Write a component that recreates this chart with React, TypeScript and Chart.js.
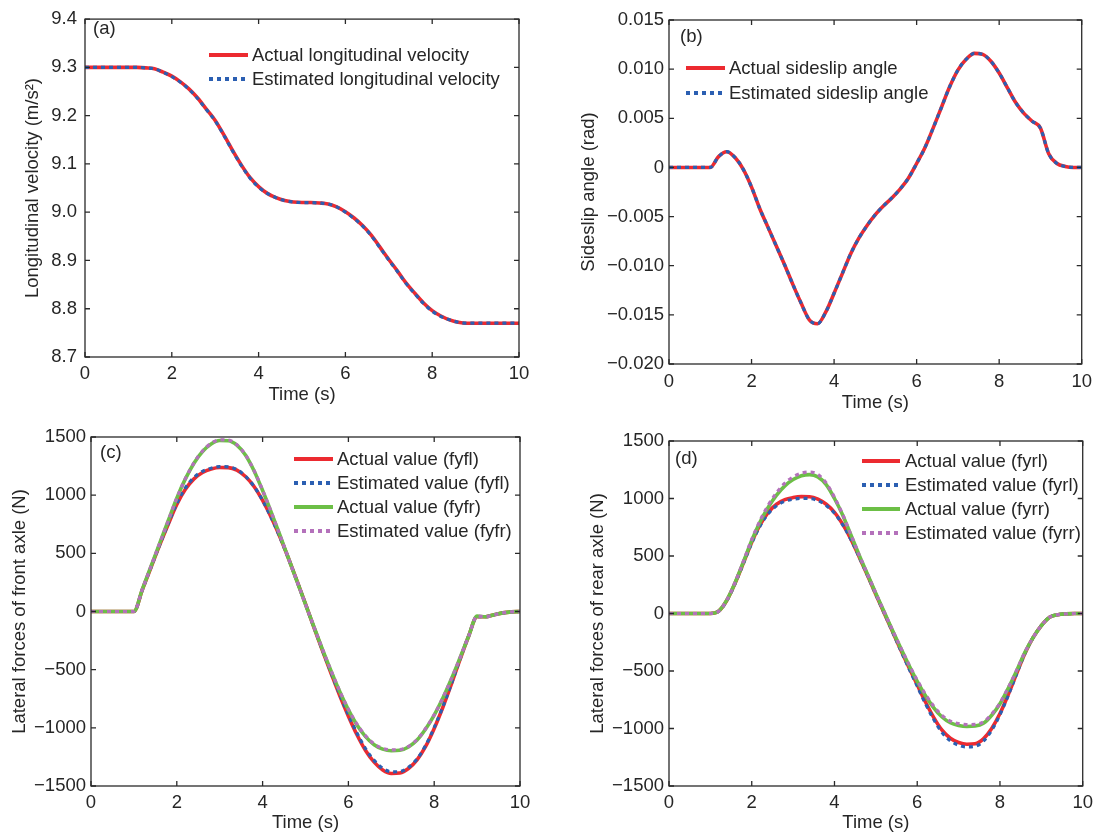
import React, { useEffect, useRef } from 'react';
import { Chart, registerables } from 'chart.js';

Chart.register(...registerables);

// ---------------- DATA ----------------
const TIME = [0, 0.2, 0.4, 0.6, 0.8, 1, 1.2, 1.4, 1.6, 1.8, 2, 2.2, 2.4, 2.6, 2.8, 3, 3.2, 3.4, 3.6, 3.8, 4, 4.2, 4.4, 4.6, 4.8, 5, 5.2, 5.4, 5.6, 5.8, 6, 6.2, 6.4, 6.6, 6.8, 7, 7.2, 7.4, 7.6, 7.8, 8, 8.2, 8.4, 8.6, 8.8, 9, 9.2, 9.4, 9.6, 9.8, 10];

const X_TICKS = [0, 2, 4, 6, 8, 10];
const X_LABELS = ['0', '2', '4', '6', '8', '10'];

// (a) longitudinal velocity
const VX_ACTUAL = [9.3, 9.3, 9.3, 9.3, 9.3, 9.3, 9.3, 9.299, 9.297, 9.29, 9.282, 9.27, 9.255, 9.236, 9.213, 9.19, 9.16, 9.128, 9.098, 9.072, 9.053, 9.039, 9.03, 9.024, 9.021, 9.02, 9.02, 9.019, 9.017, 9.011, 9.001, 8.988, 8.972, 8.952, 8.927, 8.902, 8.878, 8.853, 8.832, 8.812, 8.796, 8.785, 8.777, 8.772, 8.77, 8.77, 8.77, 8.77, 8.77, 8.77, 8.77];
const VX_ESTIMATED = [9.3, 9.3, 9.3, 9.3, 9.3, 9.3, 9.3, 9.299, 9.297, 9.29, 9.281, 9.269, 9.254, 9.235, 9.212, 9.189, 9.159, 9.127, 9.097, 9.071, 9.052, 9.039, 9.03, 9.024, 9.021, 9.02, 9.02, 9.019, 9.017, 9.011, 9.0, 8.987, 8.971, 8.951, 8.926, 8.901, 8.877, 8.852, 8.831, 8.811, 8.795, 8.784, 8.777, 8.772, 8.77, 8.77, 8.77, 8.77, 8.77, 8.77, 8.77];
const Y_TICKS_A = [8.7, 8.8, 8.9, 9.0, 9.1, 9.2, 9.3, 9.4];
const Y_LABELS_A = ['8.7', '8.8', '8.9', '9.0', '9.1', '9.2', '9.3', '9.4'];

// (b) sideslip angle
const BETA_ACTUAL = [0, 0, 0, 0, 0, 0, 0.0011, 0.0016, 0.001, -0.0002, -0.002, -0.0042, -0.0061, -0.008, -0.0099, -0.0119, -0.0138, -0.0155, -0.0159, -0.0147, -0.0128, -0.0108, -0.0088, -0.0072, -0.0059, -0.0048, -0.0039, -0.0031, -0.0022, -0.0011, 0.0004, 0.002, 0.004, 0.0061, 0.0082, 0.0099, 0.011, 0.0116, 0.0115, 0.0108, 0.0096, 0.0081, 0.0066, 0.0055, 0.0047, 0.004, 0.0014, 0.0004, 0.0001, 0, 0];
const BETA_ESTIMATED = [0, 0, 0, 0, 0, 0, 0.0011, 0.0016, 0.001, -0.0002, -0.002, -0.0042, -0.0061, -0.008, -0.0099, -0.0119, -0.0138, -0.0155, -0.0159, -0.0147, -0.0128, -0.0108, -0.0088, -0.0072, -0.0059, -0.0048, -0.0039, -0.0031, -0.0022, -0.0011, 0.0004, 0.002, 0.004, 0.0061, 0.0082, 0.0099, 0.011, 0.0116, 0.0115, 0.0108, 0.0096, 0.0081, 0.0066, 0.0055, 0.0047, 0.004, 0.0014, 0.0004, 0.0001, 0, 0];
const Y_TICKS_B = [-0.02, -0.015, -0.01, -0.005, 0, 0.005, 0.01, 0.015];
const Y_LABELS_B = ['\u22120.020', '\u22120.015', '\u22120.010', '\u22120.005', '0', '0.005', '0.010', '0.015'];

// (c) front axle lateral forces
const FYFL_ACTUAL = [0, 0, 0, 0, 0, 0, 190, 380, 570, 750, 920, 1050, 1140, 1195, 1225, 1238, 1237, 1215, 1160, 1075, 955, 810, 645, 460, 265, 65, -140, -340, -535, -725, -900, -1060, -1195, -1295, -1362, -1392, -1388, -1350, -1275, -1160, -1005, -825, -625, -415, -215, -45, -45, -28, -12, -3, 0];
const FYFL_ESTIMATED = [0, 0, 0, 0, 0, 0, 190, 380, 572, 755, 928, 1062, 1152, 1205, 1232, 1245, 1243, 1220, 1163, 1076, 955, 808, 642, 458, 263, 63, -140, -338, -530, -715, -888, -1045, -1180, -1280, -1348, -1378, -1376, -1340, -1268, -1152, -998, -820, -622, -412, -214, -45, -45, -28, -12, -3, 0];
const FYFR_ACTUAL = [0, 0, 0, 0, 0, 0, 195, 390, 585, 780, 975, 1140, 1275, 1375, 1440, 1470, 1468, 1430, 1345, 1210, 1040, 855, 660, 460, 262, 62, -135, -330, -515, -690, -845, -975, -1075, -1145, -1183, -1197, -1193, -1165, -1105, -1010, -890, -745, -580, -400, -215, -40, -45, -28, -12, -3, 0];
const FYFR_ESTIMATED = [0, 0, 0, 0, 0, 0, 195, 390, 585, 780, 975, 1142, 1278, 1380, 1445, 1475, 1473, 1433, 1347, 1212, 1042, 856, 660, 460, 262, 62, -135, -328, -512, -686, -840, -968, -1068, -1138, -1176, -1190, -1187, -1160, -1100, -1006, -887, -743, -579, -400, -215, -40, -45, -28, -12, -3, 0];
const Y_TICKS_CD = [-1500, -1000, -500, 0, 500, 1000, 1500];
const Y_LABELS_CD = ['\u22121500', '\u22121000', '\u2212500', '0', '500', '1000', '1500'];

// (d) rear axle lateral forces
const FYRL_ACTUAL = [0, 0, 0, 0, 0, 0, 20, 115, 265, 440, 620, 770, 880, 950, 990, 1008, 1016, 1015, 995, 950, 880, 775, 645, 490, 330, 165, 5, -155, -315, -470, -620, -770, -905, -1015, -1085, -1122, -1137, -1133, -1090, -1000, -870, -705, -525, -350, -210, -105, -32, -10, -3, 0, 0];
const FYRL_ESTIMATED = [0, 0, 0, 0, 0, 0, 20, 113, 262, 435, 612, 760, 868, 937, 976, 994, 1001, 1000, 982, 940, 872, 770, 642, 488, 330, 165, 5, -157, -320, -478, -632, -785, -922, -1035, -1107, -1145, -1160, -1155, -1110, -1015, -880, -712, -528, -350, -210, -105, -32, -10, -3, 0, 0];
const FYRR_ACTUAL = [0, 0, 0, 0, 0, 0, 20, 118, 270, 450, 635, 795, 925, 1030, 1110, 1165, 1198, 1208, 1188, 1120, 1000, 855, 680, 505, 340, 175, 15, -145, -300, -450, -590, -715, -820, -900, -950, -973, -982, -979, -955, -885, -785, -650, -500, -340, -210, -105, -32, -10, -3, 0, 0];
const FYRR_ESTIMATED = [0, 0, 0, 0, 0, 0, 20, 120, 274, 456, 645, 808, 942, 1050, 1133, 1188, 1220, 1230, 1208, 1135, 1010, 860, 683, 506, 340, 175, 15, -143, -296, -443, -580, -703, -806, -886, -936, -958, -966, -964, -942, -875, -778, -645, -497, -338, -209, -105, -32, -10, -3, 0, 0];

// ---------------- STYLE ----------------
const FONT = "'Liberation Sans', Arial, Helvetica, sans-serif";
const TEXT = '#262626';
const RED = '#ec2a30';
const BLUE = '#2b5fb2';
const GREEN = '#6cbf46';
const PURPLE = '#b471bb';

type Series = { label: string; values: number[]; color: string; dotted: boolean };
type Spec = {
  left: number; top: number; width: number; height: number;
  area: { l: number; t: number; r: number; b: number };
  yMin: number; yMax: number; yTicks: number[]; yLabels: string[];
  yTitle: string; yTitleX: number; yTickPad: number;
  xTickPad: number; xTitleY: number;
  tag: string; tagX: number; tagY: number;
  legend: { x1: number; x2: number; tx: number; rows: number[] };
  series: Series[];
};

const PANELS: Spec[] = [
  {
    left: 0, top: 0, width: 549, height: 418,
    area: { l: 85, t: 13, r: 519, b: 357 },
    yMin: 8.7, yMax: 9.4, yTicks: Y_TICKS_A, yLabels: Y_LABELS_A,
    yTitle: 'Longitudinal velocity (m/s\u00B2)', yTitleX: 33, yTickPad: 8,
    xTickPad: 6, xTitleY: 395,
    tag: '(a)', tagX: 93, tagY: 29,
    legend: { x1: 209, x2: 248, tx: 252, rows: [55, 79] },
    series: [
      { label: 'Actual longitudinal velocity', values: VX_ACTUAL, color: RED, dotted: false },
      { label: 'Estimated longitudinal velocity', values: VX_ESTIMATED, color: BLUE, dotted: true },
    ],
  },
  {
    left: 549, top: 0, width: 550, height: 418,
    area: { l: 120, t: 20, r: 535, b: 364 },
    yMin: -0.02, yMax: 0.015, yTicks: Y_TICKS_B, yLabels: Y_LABELS_B,
    yTitle: 'Sideslip angle (rad)', yTitleX: 40, yTickPad: 5,
    xTickPad: 7, xTitleY: 403,
    tag: '(b)', tagX: 131, tagY: 37,
    legend: { x1: 137, x2: 176, tx: 180, rows: [68, 93] },
    series: [
      { label: 'Actual sideslip angle', values: BETA_ACTUAL, color: RED, dotted: false },
      { label: 'Estimated sideslip angle', values: BETA_ESTIMATED, color: BLUE, dotted: true },
    ],
  },
  {
    left: 0, top: 418, width: 549, height: 419,
    area: { l: 91, t: 19, r: 520, b: 368 },
    yMin: -1500, yMax: 1500, yTicks: Y_TICKS_CD, yLabels: Y_LABELS_CD,
    yTitle: 'Lateral forces of front axle (N)', yTitleX: 20, yTickPad: 5,
    xTickPad: 6, xTitleY: 405,
    tag: '(c)', tagX: 100, tagY: 35,
    legend: { x1: 294, x2: 333, tx: 337, rows: [41, 65, 89, 113] },
    series: [
      { label: 'Actual value (fyfl)', values: FYFL_ACTUAL, color: RED, dotted: false },
      { label: 'Estimated value (fyfl)', values: FYFL_ESTIMATED, color: BLUE, dotted: true },
      { label: 'Actual value (fyfr)', values: FYFR_ACTUAL, color: GREEN, dotted: false },
      { label: 'Estimated value (fyfr)', values: FYFR_ESTIMATED, color: PURPLE, dotted: true },
    ],
  },
  {
    left: 549, top: 418, width: 550, height: 419,
    area: { l: 120, t: 23, r: 538, b: 368 },
    yMin: -1500, yMax: 1500, yTicks: Y_TICKS_CD, yLabels: Y_LABELS_CD,
    yTitle: 'Lateral forces of rear axle (N)', yTitleX: 49, yTickPad: 5,
    xTickPad: 6, xTitleY: 405,
    tag: '(d)', tagX: 126, tagY: 41,
    legend: { x1: 313, x2: 351, tx: 356, rows: [43, 67, 91, 115] },
    series: [
      { label: 'Actual value (fyrl)', values: FYRL_ACTUAL, color: RED, dotted: false },
      { label: 'Estimated value (fyrl)', values: FYRL_ESTIMATED, color: BLUE, dotted: true },
      { label: 'Actual value (fyrr)', values: FYRR_ACTUAL, color: GREEN, dotted: false },
      { label: 'Estimated value (fyrr)', values: FYRR_ESTIMATED, color: PURPLE, dotted: true },
    ],
  },
];

const FONT_SIZE = 18.5;
const LINE_H = FONT_SIZE * 1.2;

function Panel({ spec }: { spec: Spec }) {
  const ref = useRef<HTMLCanvasElement | null>(null);
  useEffect(() => {
    const canvas = ref.current;
    if (!canvas) return;
    const frame = {
      id: 'frame',
      afterDatasetsDraw(chart: any) {
        const { ctx, chartArea } = chart;
        const { left, top, right, bottom } = chartArea;
        const xs = chart.scales.x;
        const ys = chart.scales.y;
        ctx.save();
        ctx.strokeStyle = '#2a2a2a';
        ctx.lineWidth = 1.3;
        ctx.setLineDash([]);
        ctx.strokeRect(left, top, right - left, bottom - top);
        const tl = 5;
        ctx.beginPath();
        X_TICKS.forEach((v) => {
          const px = xs.getPixelForValue(v);
          ctx.moveTo(px, bottom); ctx.lineTo(px, bottom - tl);
          ctx.moveTo(px, top); ctx.lineTo(px, top + tl);
        });
        spec.yTicks.forEach((v) => {
          const py = ys.getPixelForValue(v);
          ctx.moveTo(left, py); ctx.lineTo(left + tl, py);
          ctx.moveTo(right, py); ctx.lineTo(right - tl, py);
        });
        ctx.stroke();

        // panel tag
        ctx.fillStyle = TEXT;
        ctx.font = `${FONT_SIZE}px ${FONT}`;
        ctx.textAlign = 'left';
        ctx.textBaseline = 'middle';
        ctx.fillText(spec.tag, spec.tagX, spec.tagY);

        // legend
        const lg = spec.legend;
        ctx.font = `${FONT_SIZE}px ${FONT}`;
        spec.series.forEach((s, i) => {
          const y = lg.rows[i];
          ctx.beginPath();
          ctx.strokeStyle = s.color;
          ctx.lineWidth = 4;
          ctx.lineCap = 'butt';
          ctx.setLineDash(s.dotted ? [4, 4] : []);
          ctx.moveTo(lg.x1, y);
          ctx.lineTo(lg.x2, y);
          ctx.stroke();
          ctx.setLineDash([]);
          ctx.fillStyle = TEXT;
          ctx.fillText(s.label, lg.tx, y + 1);
        });
        ctx.restore();
      },
    };

    const font = { family: FONT, size: FONT_SIZE };
    const n = spec.series.length;
    const chart = new Chart(canvas, {
      type: 'line',
      data: {
        datasets: spec.series.map((s, i) => ({
          label: s.label,
          data: TIME.map((t, k) => ({ x: t, y: s.values[k] })),
          borderColor: s.color,
          backgroundColor: s.color,
          borderWidth: s.dotted ? 3.2 : 3.6,
          borderDash: s.dotted ? [4, 4] : [],
          borderCapStyle: 'butt',
          pointRadius: 0,
          fill: false,
          order: n - i,
          cubicInterpolationMode: 'monotone',
        })),
      },
      options: {
        responsive: false,
        animation: false,
        events: [],
        layout: { padding: { left: 0, top: spec.area.t, right: spec.width - spec.area.r, bottom: 0 } },
        plugins: { legend: { display: false }, tooltip: { enabled: false } },
        scales: {
          x: {
            type: 'linear',
            min: 0,
            max: 10,
            grid: { display: false, drawTicks: false },
            border: { display: false },
            afterBuildTicks: (s: any) => { s.ticks = X_TICKS.map((v) => ({ value: v })); },
            afterFit: (s: any) => { s.height = spec.height - spec.area.b; },
            ticks: {
              autoSkip: false, maxRotation: 0, padding: spec.xTickPad, color: TEXT, font,
              callback: (_v: any, i: number) => X_LABELS[i],
            },
            title: {
              display: true, text: 'Time (s)', color: TEXT, font,
              padding: { top: 0, bottom: spec.height - spec.xTitleY - LINE_H / 2 },
            },
          },
          y: {
            type: 'linear',
            min: spec.yMin,
            max: spec.yMax,
            grid: { display: false, drawTicks: false },
            border: { display: false },
            afterBuildTicks: (s: any) => { s.ticks = spec.yTicks.map((v) => ({ value: v })); },
            afterFit: (s: any) => { s.width = spec.area.l; },
            ticks: {
              autoSkip: false, padding: spec.yTickPad, color: TEXT, font,
              callback: (_v: any, i: number) => spec.yLabels[i],
            },
            title: {
              display: true, text: spec.yTitle, color: TEXT, font,
              padding: { top: spec.yTitleX - LINE_H / 2, bottom: 0 },
            },
          },
        },
      } as any,
      plugins: [frame],
    } as any);
    return () => chart.destroy();
  }, [spec]);

  return (
    <div style={{ position: 'absolute', left: spec.left, top: spec.top, width: spec.width, height: spec.height }}>
      <canvas ref={ref} width={spec.width} height={spec.height} style={{ display: 'block', width: spec.width, height: spec.height }} />
    </div>
  );
}

export default function App() {
  return (
    <div style={{ position: 'absolute', left: 0, top: 0, width: 1099, height: 837, background: '#fff' }}>
      {PANELS.map((p, i) => (
        <Panel key={i} spec={p} />
      ))}
    </div>
  );
}
